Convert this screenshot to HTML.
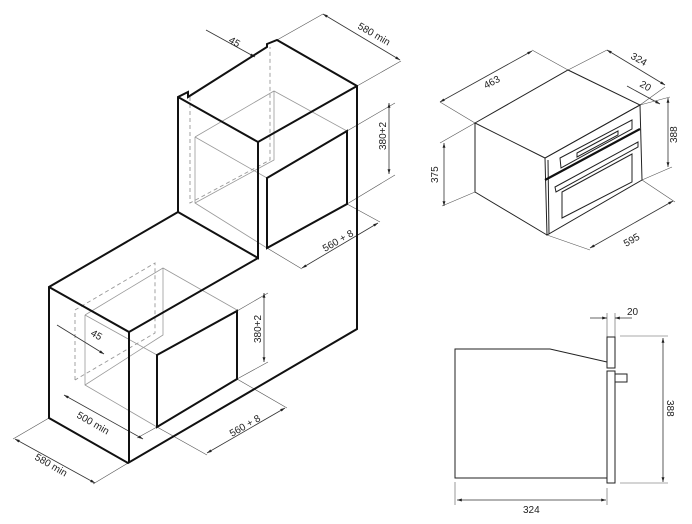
<!DOCTYPE html>
<html><head><meta charset="utf-8"><style>
html,body{margin:0;padding:0;background:#fff}
svg{display:block}
text{font-family:"Liberation Sans",sans-serif;font-size:10px;fill:#222}
</style></head><body>
<svg width="692" height="524" viewBox="0 0 692 524" xmlns="http://www.w3.org/2000/svg">
<defs>
<marker id="a" viewBox="0 0 10 10" refX="10" refY="5" markerWidth="6" markerHeight="6" orient="auto-start-reverse"><path d="M0,2 L10,5 L0,8 z" fill="#222"/></marker>
</defs>
<g stroke="#999" stroke-width="0.8" fill="none">
<path d="M195,137 L274,91 L347,131 M195,137 L267,178 M195,137 V203 L267,248 M274,91 V160 L195,203"/>
<path d="M85,315 L163,268 L237,310 M85,315 L157,355 M85,315 V385 L157,427 M163,268 V335 L85,385"/>
</g>
<g stroke="#999" stroke-width="0.9" fill="none" stroke-dasharray="4,3">
<path d="M190,97 V203 L270,160 V47"/>
<path d="M75,380 V310 L155,263 V333 L75,380"/>
</g>
<g stroke="#555" stroke-width="0.6" fill="none">
<path d="M277,40 L323,14 M357,86 L401,61 M347,131 L395,103 M347,204 L395,175 M347,204 L380,222 M267,248 L302,269"/>
<path d="M237,311 L268,293 M237,379 L268,362 M157,427 L207,455 M237,379 L287,408 M157,427 L137,438"/>
<path d="M49,418 L13,439 M128,463 L93,484"/>
<path d="M475,123 L440,102 M568,70 L532,50 M568,70 L607,50 M640,105 L665,87 M640,105 L670,97 M642,180 L672,167 M475,192 L442,206 M475,123 L440,143 M547,235 L590,250 M642,180 L675,202"/>
<path d="M607,313 V337 M615,313 V337 M620,336 H668 M620,483 H668 M455,482 V505 M607,488 V505"/>
</g>
<g stroke="#333" stroke-width="0.8" fill="none" marker-start="url(#a)" marker-end="url(#a)">
<line x1="323" y1="14" x2="400" y2="60"/>
<line x1="389" y1="103" x2="389" y2="174"/>
<line x1="302" y1="268" x2="378" y2="223"/>
<line x1="264" y1="293" x2="264" y2="362"/>
<line x1="207" y1="453" x2="285" y2="408"/>
<line x1="64" y1="395" x2="143" y2="439"/>
<line x1="15" y1="439" x2="95" y2="483"/>
<line x1="440" y1="102" x2="532" y2="51"/>
<line x1="607" y1="50" x2="665" y2="85"/>
<line x1="668" y1="98" x2="668" y2="167"/>
<line x1="444" y1="143" x2="444" y2="206"/>
<line x1="590" y1="248" x2="673" y2="201"/>
<line x1="663" y1="338" x2="663" y2="482"/>
<line x1="457" y1="500" x2="606" y2="500"/>
</g>
<g stroke="#333" stroke-width="0.8" fill="none" marker-end="url(#a)">
<line x1="206" y1="30" x2="255" y2="57"/>
<line x1="57" y1="325" x2="104" y2="354"/>
<line x1="627" y1="86" x2="660" y2="104"/>
<line x1="590" y1="318" x2="607" y2="318"/>
<line x1="632" y1="318" x2="615" y2="318"/>
</g>
<g stroke="#111" stroke-width="2" fill="none" stroke-linejoin="miter">
<path d="M178,212 V97 L188,92 V97 L267,47 V44 L277,40 L357,86 V329 L128,463 L49,418 V287 L178,212"/>
<path d="M178,97 L258,142 L357,86 M258,142 V258 L178,212 M49,287 L129,332 V463 M129,332 L258,258"/>
<path d="M267,178 L347,131 V204 L267,248 Z"/>
<path d="M157,355 L237,311 V379 L157,427 Z"/>
</g>
<g stroke="#222" stroke-width="1" fill="none">
<path d="M475,123 L568,70 L640,105 L545,158 Z"/>
<path d="M475,123 V192 L547,235"/>
<path d="M545,158 L640,105 L642,180 L547,235 Z"/>
<path d="M548,160 L549,234"/>
<path d="M560,158 L632,120 L632,129 L561,168 Z"/>
<path d="M577,153 L618,131 L618,135 L577,157 Z"/>
<path d="M555,187 L638,142 L638,147 L556,192 Z"/>
<path d="M562,192 L632,154 L632,182 L562,218 Z"/>
</g>
<line x1="545" y1="180" x2="640" y2="129" stroke="#111" stroke-width="2.2"/>
<g stroke="#222" stroke-width="1" fill="none">
<path d="M607,362 L550,349 H455 V478 H607"/>
<rect x="607" y="337" width="8" height="31"/>
<rect x="607" y="371" width="8" height="112"/>
<rect x="615" y="374" width="12" height="8"/>
</g>
<text transform="translate(228,42) rotate(30)">45</text>
<text transform="translate(357,28) rotate(30)">580 min</text>
<text transform="translate(386,150) rotate(-90)">380+2</text>
<text transform="translate(325,252) rotate(-30)">560 + 8</text>
<text transform="translate(261,343) rotate(-90)">380+2</text>
<text transform="translate(232,437) rotate(-30)">560 + 8</text>
<text transform="translate(90,335) rotate(30)">45</text>
<text transform="translate(76,417) rotate(30)">500 min</text>
<text transform="translate(34,459) rotate(30)">580 min</text>
<text transform="translate(486,89) rotate(-28)">463</text>
<text transform="translate(630,58) rotate(30)">324</text>
<text transform="translate(639,86) rotate(30)">20</text>
<text transform="translate(677,143) rotate(-90)">388</text>
<text transform="translate(438,183) rotate(-90)">375</text>
<text transform="translate(626,247) rotate(-30)">595</text>
<text x="627" y="315">20</text>
<text transform="translate(667,400) rotate(90)">388</text>
<text x="523" y="513">324</text>
</svg>
</body></html>
